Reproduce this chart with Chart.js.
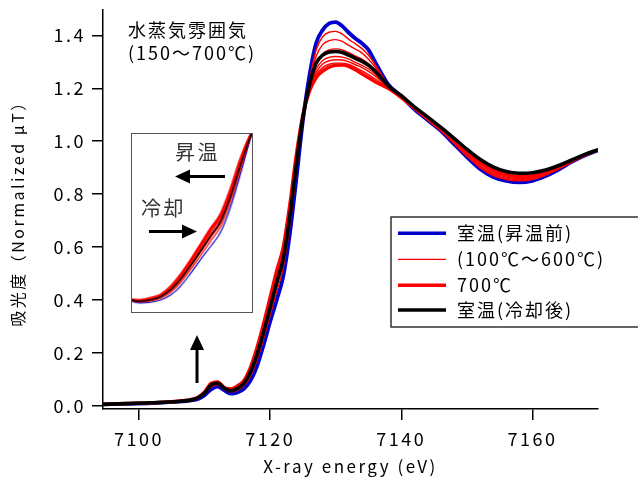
<!DOCTYPE html>
<html><head><meta charset="utf-8">
<script src="https://cdn.jsdelivr.net/npm/chart.js@4"></script>
<style>
html,body{margin:0;padding:0;background:#fff;}
#wrap{position:relative;width:638px;height:479px;overflow:hidden;}
#main{position:absolute;left:0;top:0;}
#inset{position:absolute;left:131px;top:133px;border:1px solid #555;background:transparent;}
</style></head><body>
<div id="wrap"><canvas id="main" width="638" height="479"></canvas><canvas id="inset" width="122" height="180"></canvas></div>
<script>
// X-ray energy (eV)
const energy = [7094.5,7098,7102,7106,7108,7109,7110,7111,7112,7113,7114,
7115,7116,7117,7118,7119,7120,7121,7122,7123,7124,7125,7126,
7127,7128,7129,7130,7131,7132,7133,7134,7135,7136,7138,7140,7142,7144,7146,7148,7150,7152,7154,7156,7158,7160,7162,7164,7166,7168,7170];
// 室温(昇温前)
const roomBefore = [0.005,0.007,0.010,0.015,0.020,0.025,0.040,0.062,0.072,0.058,0.046,
0.050,0.064,0.095,0.150,0.230,0.318,0.400,0.490,0.650,0.860,1.080,1.250,
1.370,1.420,1.445,1.450,1.435,1.410,1.388,1.370,1.345,1.300,1.215,1.170,1.120,1.080,1.040,0.990,0.940,0.895,0.865,0.850,0.844,0.850,0.868,0.893,0.922,0.946,0.965];
// 100℃ ~ 600℃
const t100 = [0.005,0.007,0.010,0.016,0.021,0.027,0.044,0.070,0.079,0.062,0.052,
0.058,0.075,0.112,0.172,0.254,0.343,0.433,0.523,0.683,0.887,1.086,1.230,
1.345,1.395,1.412,1.415,1.405,1.385,1.368,1.350,1.325,1.290,1.212,1.168,1.121,1.081,1.041,0.992,0.943,0.900,0.870,0.855,0.850,0.855,0.871,0.895,0.923,0.947,0.965];
const t200 = [0.005,0.007,0.010,0.016,0.022,0.029,0.047,0.075,0.083,0.064,0.055,
0.062,0.081,0.122,0.186,0.270,0.362,0.455,0.545,0.705,0.905,1.090,1.220,
1.320,1.365,1.380,1.384,1.377,1.362,1.348,1.333,1.310,1.280,1.209,1.167,1.122,1.082,1.042,0.995,0.947,0.905,0.875,0.860,0.855,0.858,0.873,0.896,0.923,0.947,0.966];
const t300 = [0.005,0.008,0.011,0.016,0.022,0.030,0.049,0.079,0.086,0.066,0.058,
0.066,0.086,0.130,0.198,0.284,0.377,0.472,0.562,0.722,0.919,1.093,1.211,
1.292,1.330,1.345,1.349,1.345,1.335,1.322,1.310,1.292,1.268,1.206,1.166,1.123,1.083,1.043,0.998,0.952,0.910,0.880,0.864,0.859,0.861,0.875,0.897,0.924,0.947,0.966];
const t400 = [0.005,0.008,0.011,0.017,0.023,0.031,0.050,0.081,0.088,0.067,0.060,
0.069,0.090,0.137,0.208,0.295,0.390,0.487,0.577,0.736,0.930,1.096,1.203,
1.272,1.305,1.317,1.320,1.318,1.310,1.298,1.287,1.273,1.255,1.204,1.166,1.124,1.084,1.044,1.001,0.956,0.915,0.885,0.868,0.862,0.864,0.877,0.898,0.924,0.947,0.967];
const t500 = [0.005,0.008,0.011,0.017,0.023,0.031,0.051,0.083,0.089,0.068,0.061,
0.072,0.093,0.141,0.214,0.302,0.398,0.497,0.587,0.746,0.938,1.097,1.198,
1.260,1.292,1.304,1.308,1.307,1.300,1.289,1.278,1.264,1.247,1.202,1.165,1.124,1.084,1.044,1.003,0.959,0.919,0.889,0.871,0.864,0.866,0.878,0.899,0.924,0.947,0.967];
const t600 = [0.005,0.008,0.011,0.017,0.024,0.032,0.052,0.084,0.090,0.068,0.062,
0.074,0.094,0.143,0.218,0.306,0.404,0.505,0.594,0.753,0.945,1.099,1.194,
1.250,1.278,1.291,1.295,1.295,1.290,1.279,1.266,1.252,1.236,1.201,1.165,1.125,1.085,1.045,1.004,0.962,0.922,0.892,0.873,0.865,0.867,0.879,0.899,0.924,0.947,0.967];
// 700℃
const t700 = [0.005,0.008,0.011,0.017,0.024,0.032,0.052,0.085,0.090,0.068,0.063,
0.075,0.095,0.145,0.220,0.310,0.410,0.510,0.600,0.760,0.950,1.100,1.190,
1.240,1.265,1.280,1.287,1.288,1.283,1.270,1.255,1.240,1.225,1.200,1.165,1.125,1.085,1.045,1.005,0.965,0.925,0.895,0.875,0.866,0.868,0.880,0.900,0.925,0.948,0.968];
// 室温(冷却後)
const roomAfter = [0.005,0.008,0.011,0.016,0.022,0.030,0.048,0.078,0.085,0.066,0.056,
0.065,0.084,0.127,0.194,0.279,0.371,0.466,0.556,0.716,0.914,1.092,1.214,
1.295,1.325,1.337,1.339,1.335,1.325,1.313,1.302,1.287,1.265,1.210,1.172,1.130,1.092,1.053,1.012,0.970,0.932,0.903,0.885,0.879,0.881,0.891,0.908,0.929,0.950,0.968];

const xTicks = [7100,7120,7140,7160];
const yTicks = [0.0,0.2,0.4,0.6,0.8,1.0,1.2,1.4];
const legendLabels = ['室温(昇温前)','(100℃～600℃)','700℃','室温(冷却後)'];

const F = '"Noto Sans CJK JP", "Noto Sans", sans-serif';
const BLUE = '#0000cc', RED = '#ff0000', BLACK = '#000000';

function pts(arr){ return arr.map((v,i)=>({x:energy[i], y:v})); }
function makeSets(wBlue, wThin, wThick, wBlack){
  const ds = (label, arr, color, w, order) => ({label, data: pts(arr), borderColor: color, backgroundColor: color,
    borderWidth: w, pointRadius: 0, fill: false, cubicInterpolationMode: 'monotone', order});
  return [
    ds('室温(冷却後)', roomAfter, BLACK, wBlack, 0),
    ds('700℃', t700, RED, wThick, 1),
    ds('600℃', t600, RED, wThin, 2),
    ds('500℃', t500, RED, wThin, 2),
    ds('400℃', t400, RED, wThin, 2),
    ds('300℃', t300, RED, wThin, 2),
    ds('200℃', t200, RED, wThin, 2),
    ds('100℃', t100, RED, wThin, 2),
    ds('室温(昇温前)', roomBefore, BLUE, wBlue, 3)
  ];
}

function text(c, s, x, y, size, sp, color, align){
  c.font = size + 'px ' + F;
  c.letterSpacing = sp + 'px';
  c.fillStyle = color || '#000';
  c.textAlign = align || 'left';
  c.textBaseline = 'middle';
  c.fillText(s, x, y);
}
function arrow(c, x1, y1, x2, y2){
  const ang = Math.atan2(y2-y1, x2-x1), L = 15, H = 7;
  const bx = x2 - L*Math.cos(ang), by = y2 - L*Math.sin(ang);
  c.strokeStyle = '#000'; c.lineWidth = 3; c.lineCap = 'butt';
  c.beginPath(); c.moveTo(x1,y1); c.lineTo(bx,by); c.stroke();
  c.fillStyle = '#000';
  c.beginPath(); c.moveTo(x2,y2);
  c.lineTo(bx + H*Math.sin(ang), by - H*Math.cos(ang));
  c.lineTo(bx - H*Math.sin(ang), by + H*Math.cos(ang));
  c.closePath(); c.fill();
}

const deco = {
  id: 'deco',
  beforeDraw(chart){ chart.ctx.letterSpacing = '2.5px'; },
  afterDraw(chart){
    const c = chart.ctx;
    c.save();
    text(c, '水蒸気雰囲気', 128, 30, 18, 2, '#000');
    text(c, '(150～700℃)', 128, 53, 18, 2, '#000');
    // inset annotations
    text(c, '昇温', 175, 152, 20, 2.5, '#333');
    text(c, '冷却', 141, 208, 20, 2.5, '#333');
    arrow(c, 225, 176.5, 175, 176.5);
    arrow(c, 149, 231.5, 197, 231.5);
    arrow(c, 197, 383, 197, 335);
    // legend
    c.fillStyle = '#fff';
    c.fillRect(391, 217, 260, 110);
    c.strokeStyle = '#333'; c.lineWidth = 1.5;
    c.strokeRect(391, 217, 260, 110);
    const rows = [233.3, 259.3, 285.3, 310];
    const cols = [BLUE, RED, RED, BLACK];
    const ws = [3.5, 1.3, 3.5, 3.5];
    rows.forEach((y,i)=>{
      c.strokeStyle = cols[i]; c.lineWidth = ws[i];
      c.beginPath(); c.moveTo(398, y); c.lineTo(446, y); c.stroke();
      text(c, legendLabels[i], 457, y, 18, 2, '#000');
    });
    c.restore();
  }
};

new Chart(document.getElementById('main'), {
  type: 'line',
  data: { datasets: makeSets(3.8, 1.4, 3.5, 3.6) },
  options: {
    responsive: false, animation: false, events: [],
    layout: { padding: { left: 0, right: 40, top: 10, bottom: 0 } },
    plugins: { legend: { display: false }, tooltip: { enabled: false } },
    scales: {
      x: {
        type: 'linear', min: 7094.5, max: 7170,
        afterBuildTicks: s => { s.ticks = xTicks.map(v => ({value: v})); },
        ticks: { color: '#000', font: { family: F, size: 18 }, padding: 8, maxRotation: 0, autoSkip: false,
          callback: v => String(v) },
        grid: { drawOnChartArea: false, drawTicks: true, tickLength: 11, color: '#000', lineWidth: 1.5 },
        border: { display: true, color: '#000', width: 1.5 },
        title: { display: true, text: 'X-ray energy (eV)', color: '#000', font: { family: F, size: 17 }, padding: { top: 0, bottom: 2 } },
        afterFit: s => { s.height = 70; s.paddingLeft = 0; s.paddingRight = 0; }
      },
      y: {
        type: 'linear', min: -0.0125, max: 1.496,
        afterBuildTicks: s => { s.ticks = yTicks.map(v => ({value: v})); },
        ticks: { color: '#000', font: { family: F, size: 18 }, padding: 6, autoSkip: false,
          callback: v => Number(v).toFixed(1) },
        grid: { drawOnChartArea: false, drawTicks: true, tickLength: 11, color: '#000', lineWidth: 1.5 },
        border: { display: true, color: '#000', width: 1.5 },
        title: { display: true, text: '吸光度（Normalized μT）', color: '#000', font: { family: F, size: 16 }, padding: { top: 8, bottom: 0 } },
        afterFit: s => { s.width = 103; s.paddingTop = 0; s.paddingBottom = 0; }
      }
    }
  },
  plugins: [deco]
});

new Chart(document.getElementById('inset'), {
  type: 'line',
  data: { datasets: makeSets(1.2, 1.2, 2.8, 1.5) },
  options: {
    responsive: false, animation: false, events: [],
    layout: { padding: 0 },
    plugins: { legend: { display: false }, tooltip: { enabled: false } },
    scales: {
      x: { type: 'linear', display: false, min: 7113.2, max: 7125.1 },
      y: { type: 'linear', display: false, min: -0.01, max: 1.1 }
    }
  }
});
</script>
</body></html>
